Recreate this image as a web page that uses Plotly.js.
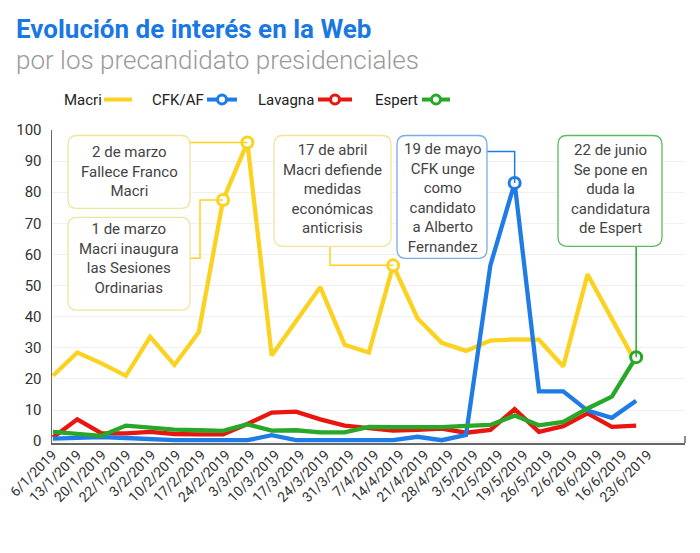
<!DOCTYPE html>
<html>
<head>
<meta charset="utf-8">
<script src="https://cdn.plot.ly/plotly-3.0.1.min.js"></script>
<style>
html,body{margin:0;padding:0;background:#fff;}
#chart{width:700px;height:553px;}
</style>
</head>
<body>
<div id="chart"></div>
<script>
// ---- data ----
const fechas = ['6/1/2019','13/1/2019','20/1/2019','22/1/2019','3/2/2019','10/2/2019','17/2/2019','24/2/2019','3/3/2019','10/3/2019','17/3/2019','24/3/2019','31/3/2019','7/4/2019','14/4/2019','21/4/2019','28/4/2019','3/5/2019','12/5/2019','19/5/2019','26/5/2019','2/6/2019','8/6/2019','16/6/2019','23/6/2019'];
const macri   = [21,28.5,25,21,33.5,24.5,35,77.5,96,27.5,38.5,49.5,31,28.5,56.5,39.5,31.6,29,32.3,32.7,32.6,24,53.6,39,25];
const cfk     = [0.8,1,1.3,1,0.5,0.3,0.3,0.3,0.3,1.9,0.3,0.3,0.3,0.3,0.3,1.4,0.3,2,56.5,83,16,16,9.8,7.5,13];
const lavagna = [1.2,7,2.5,2.5,3,2.3,2.2,2.2,5.5,9.2,9.5,7,5,4.3,3.4,3.6,4,2.7,3.6,10.3,3,4.8,8.9,4.6,5];
const espert  = [3,2.3,1.7,5,4.3,3.7,3.5,3.3,5.4,3.4,3.5,2.8,2.8,4.6,4.5,4.5,4.5,4.9,5.2,8.2,5.1,6.2,10.5,14.3,27];
const yTicks  = [0,10,20,30,40,50,60,70,80,90,100];

const xi = fechas.map((_, i) => i);

// ---- colours ----
const C = {macri:'#fbd220', cfk:'#1f7be6', lav:'#e8160e', esp:'#27a828'};

// ---- geometry helpers (pixel -> axis / paper) ----
const L = 52, R = 685, T = 129.5, B = 443;
const xr = [-0.04, 26.01], yr = [-0.6, 100];
const xr2 = [-0.02, 25.5];   // tick-label axis (labels spaced a little wider, as in the original)
const px2x = px => xr[0] + (px - L) / (R - L) * (xr[1] - xr[0]);
const py2y = py => yr[0] + (B - py) / (B - T) * (yr[1] - yr[0]);
const pxp = px => (px - L) / (R - L);
const pyp = py => (B - py) / (B - T);

function roundRect(x0, y0, x1, y1, r) {
  const X = px2x, Y = py2y;
  return 'M' + X(x0 + r) + ',' + Y(y0) +
    ' L' + X(x1 - r) + ',' + Y(y0) +
    ' Q' + X(x1) + ',' + Y(y0) + ' ' + X(x1) + ',' + Y(y0 + r) +
    ' L' + X(x1) + ',' + Y(y1 - r) +
    ' Q' + X(x1) + ',' + Y(y1) + ' ' + X(x1 - r) + ',' + Y(y1) +
    ' L' + X(x0 + r) + ',' + Y(y1) +
    ' Q' + X(x0) + ',' + Y(y1) + ' ' + X(x0) + ',' + Y(y1 - r) +
    ' L' + X(x0) + ',' + Y(y0 + r) +
    ' Q' + X(x0) + ',' + Y(y0) + ' ' + X(x0 + r) + ',' + Y(y0) + ' Z';
}

function line(name, y, color) {
  return {x: xi, y: y, name: name, type: 'scatter', mode: 'lines',
          line: {color: color, width: 4.3}, hoverinfo: 'x+y'};
}
function hl(idx, series, color) {
  return {x: idx, y: idx.map(i => series[i]), type: 'scatter', mode: 'markers',
          marker: {symbol: 'circle', size: 11, color: '#fff', line: {color: color, width: 3}},
          hoverinfo: 'skip', showlegend: false};
}

const traces = [
  line('Macri', macri, C.macri),
  line('Lavagna', lavagna, C.lav),
  line('CFK/AF', cfk, C.cfk),
  line('Espert', espert, C.esp),
  hl([7, 8, 14], macri, C.macri),
  hl([19], cfk, C.cfk),
  hl([24], espert, C.esp),
  // carrier for the date tick-label axis (draws nothing)
  {x: xi, y: xi.map(() => null), xaxis: 'x2', yaxis: 'y', type: 'scatter', mode: 'lines',
   showlegend: false, hoverinfo: 'skip'}
];

const boxFont = {family: 'Roboto, sans-serif', size: 15, color: '#444'};
const boxes = [
  {x0: 68, y0: 135, x1: 190, y1: 208, col: '#f0e49a', cx: 129, cy: 171,
   text: '2 de marzo<br>Fallece Franco<br>Macri'},
  {x0: 68, y0: 217, x1: 190, y1: 310, col: '#f0e49a', cx: 129, cy: 258,
   text: '1 de marzo<br>Macri inaugura<br>las Sesiones<br>Ordinarias'},
  {x0: 274, y0: 135, x1: 391, y1: 246, col: '#f0e49a', cx: 332, cy: 189,
   text: '17 de abril<br>Macri defiende<br>medidas<br>económicas<br>anticrisis'},
  {x0: 397, y0: 135, x1: 487, y1: 258, col: '#78ace8', cx: 442, cy: 198,
   text: '19 de mayo<br>CFK unge<br>como<br>candidato<br>a Alberto<br>Fernandez'},
  {x0: 558, y0: 135, x1: 662, y1: 246, col: '#5cba5c', cx: 610, cy: 189,
   text: '22 de junio<br>Se pone en<br>duda la<br>candidatura<br>de Espert'}
];

const shapes = [];
const annotations = [];
boxes.forEach(b => {
  shapes.push({type: 'path', xref: 'x', yref: 'y', path: roundRect(b.x0, b.y0, b.x1, b.y1, 9),
               line: {color: b.col, width: 1.3}, fillcolor: 'rgba(255,255,255,0.95)', layer: 'above'});
  annotations.push({xref: 'x', yref: 'y', x: px2x(b.cx), y: py2y(b.cy), text: b.text,
                    showarrow: false, font: boxFont, align: 'center', xanchor: 'center', yanchor: 'middle'});
});

// connectors (end at data points)
const conn = [
  {col: C.macri, path: 'M' + px2x(190) + ',' + macri[8] + ' L8,' + macri[8]},
  {col: C.macri, path: 'M' + px2x(190) + ',' + py2y(258) + ' L' + px2x(200) + ',' + py2y(258) +
                       ' L' + px2x(200) + ',' + macri[7] + ' L7,' + macri[7]},
  {col: C.macri, path: 'M' + px2x(330) + ',' + py2y(246) + ' L' + px2x(330) + ',' + macri[14] + ' L14,' + macri[14]},
  {col: C.cfk, path: 'M' + px2x(487) + ',' + py2y(151) + ' L19,' + py2y(151) + ' L19,' + cfk[19]},
  {col: C.esp, path: 'M24,' + py2y(246) + ' L24,' + espert[24]}
];
conn.forEach(c => shapes.unshift({type: 'path', xref: 'x', yref: 'y', path: c.path,
                                  line: {color: c.col, width: 1.5}, layer: 'above'}));

// right end tick of x axis
shapes.push({type: 'line', xref: 'paper', yref: 'paper', x0: 1, x1: 1, y0: 0, y1: pyp(436),
             line: {color: '#666', width: 1.5}});

// custom legend (text then symbol)
const legItems = [
  {t: 'Macri', tx: 62, l0: 104, l1: 132, col: C.macri, circ: false},
  {t: 'CFK/AF', tx: 150, l0: 207, l1: 237, col: C.cfk, circ: true},
  {t: 'Lavagna', tx: 256, l0: 318, l1: 352, col: C.lav, circ: true},
  {t: 'Espert', tx: 373, l0: 422, l1: 450, col: C.esp, circ: true}
];
const legY = 99;
legItems.forEach(it => {
  annotations.push({xref: 'paper', yref: 'paper', x: pxp(it.tx), y: pyp(legY), text: it.t,
                    showarrow: false, xanchor: 'left', yanchor: 'middle',
                    font: {family: 'Roboto, sans-serif', size: 15, color: '#222'}});
  shapes.push({type: 'line', xref: 'paper', yref: 'paper', x0: pxp(it.l0), x1: pxp(it.l1),
               y0: pyp(legY), y1: pyp(legY), line: {color: it.col, width: 4}});
  if (it.circ) {
    const cx = (it.l0 + it.l1) / 2, r = 4.5;
    shapes.push({type: 'circle', xref: 'paper', yref: 'paper',
                 x0: pxp(cx - r), x1: pxp(cx + r), y0: pyp(legY + r), y1: pyp(legY - r),
                 fillcolor: '#fff', line: {color: it.col, width: 3}});
  }
});

// titles
annotations.push({xref: 'paper', yref: 'paper', x: pxp(14), y: pyp(28), xanchor: 'left', yanchor: 'middle',
                  text: '<b>Evolución de interés en la Web</b>', showarrow: false,
                  font: {family: 'Roboto, sans-serif', size: 26, color: '#1a78e2'}});
annotations.push({xref: 'paper', yref: 'paper', x: pxp(14), y: pyp(59), xanchor: 'left', yanchor: 'middle',
                  text: 'por los precandidato presidenciales', showarrow: false,
                  font: {family: 'Roboto, sans-serif', size: 26, color: '#9a9a9a', weight: 300}});

const layout = {
  width: 700, height: 553,
  margin: {l: L, r: 700 - R, t: T, b: 553 - B, pad: 0},
  paper_bgcolor: '#fff', plot_bgcolor: '#fff',
  showlegend: false,
  font: {family: 'Roboto, sans-serif', color: '#333'},
  xaxis: {range: xr, showticklabels: false, showgrid: false, zeroline: false,
          showline: true, linecolor: '#666', linewidth: 1.5, ticks: '', fixedrange: true},
  xaxis2: {range: xr2, overlaying: 'x', anchor: 'y', side: 'bottom',
           tickmode: 'array', tickvals: xi, ticktext: fechas, tickangle: -45,
           tickfont: {size: 14, color: '#333'}, showgrid: false, zeroline: false,
           showline: false, ticks: '', fixedrange: true},
  yaxis: {range: yr, tickmode: 'array', tickvals: yTicks, tickfont: {size: 15, color: '#333'},
          showgrid: true, gridcolor: '#f0f0f0', gridwidth: 1, zeroline: false,
          showline: true, linecolor: '#666', linewidth: 1.5, ticks: '', ticklabelstandoff: 6, fixedrange: true},
  shapes: shapes,
  annotations: annotations
};

Plotly.newPlot('chart', traces, layout, {displayModeBar: false, staticPlot: true});
</script>
</body>
</html>
